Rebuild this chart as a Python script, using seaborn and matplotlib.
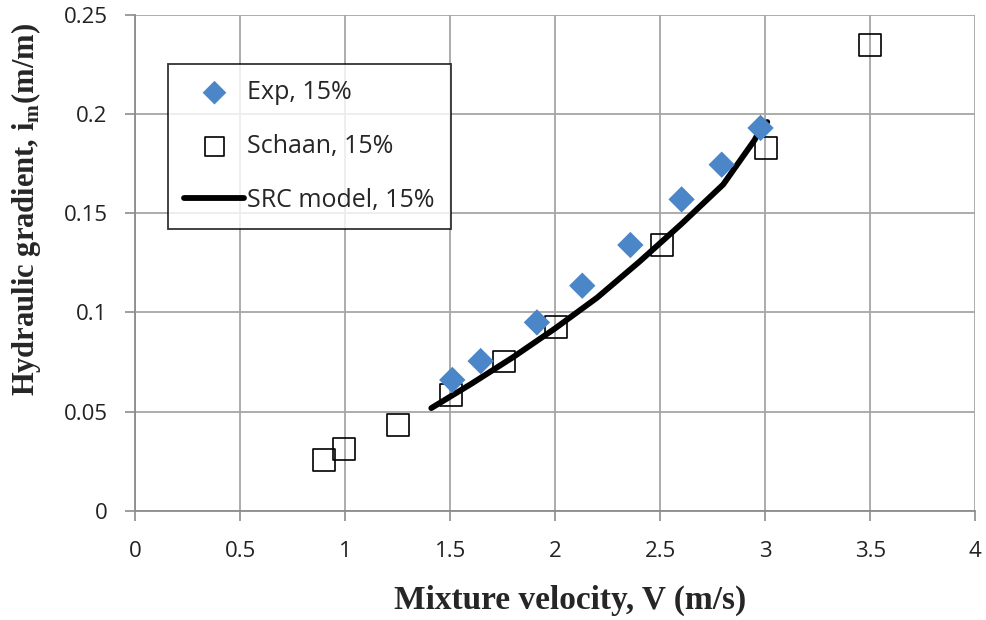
import matplotlib
matplotlib.use("Agg")
import matplotlib.pyplot as plt
import seaborn as sns
import pandas as pd

exp_v = [1.51, 1.645, 1.913, 2.129, 2.358, 2.602, 2.793, 2.978]
exp_i = [0.066, 0.0755, 0.0950, 0.1135, 0.1340, 0.1570, 0.1745, 0.1930]

schaan_v = [0.90, 0.995, 1.252, 1.506, 1.755, 2.005, 2.509, 3.004, 3.50]
schaan_i = [0.0257, 0.0310, 0.0433, 0.0585, 0.0753, 0.0929, 0.1340, 0.1828, 0.2350]

src_v = [1.41, 1.6, 1.8, 2.0, 2.2, 2.4, 2.6, 2.8, 2.95, 2.98, 3.01]
src_i = [0.0518, 0.0640, 0.0775, 0.0920, 0.1075, 0.1255, 0.1445, 0.1645, 0.1870, 0.1930, 0.1960]

x_ticks = [0, 0.5, 1, 1.5, 2, 2.5, 3, 3.5, 4]
x_labels = ["0", "0.5", "1", "1.5", "2", "2.5", "3", "3.5", "4"]
y_ticks = [0, 0.05, 0.1, 0.15, 0.2, 0.25]
y_labels = ["0", "0.05", "0.1", "0.15", "0.2", "0.25"]

sns.set_style("white")
plt.rcParams['font.family'] = ['Open Sans', 'DejaVu Sans']
plt.rcParams['mathtext.fontset'] = 'custom'
plt.rcParams['mathtext.rm'] = 'Liberation Serif'
plt.rcParams['mathtext.bf'] = 'Liberation Serif:bold'

fig = plt.figure(figsize=(9.87, 6.2), dpi=100)
ax = fig.add_axes([0.137, 0.176, 0.851, 0.8])

df_exp = pd.DataFrame({"V": exp_v, "i": exp_i})
df_sch = pd.DataFrame({"V": schaan_v, "i": schaan_i})
df_src = pd.DataFrame({"V": src_v, "i": src_i})

sns.lineplot(data=df_src, x="V", y="i", ax=ax, color="black", linewidth=4.2,
             label="SRC model, 15%", sort=False, zorder=3, solid_capstyle="round")
sns.scatterplot(data=df_sch, x="V", y="i", ax=ax, marker="s", s=250, facecolor="none",
                edgecolor="black", linewidth=1.2, label="Schaan, 15%", zorder=4)
sns.scatterplot(data=df_exp, x="V", y="i", ax=ax, marker="D", s=180, color="#4a86c8",
                edgecolor="none", label="Exp, 15%", zorder=5)

ax.set_xlim(0, 4)
ax.set_ylim(0, 0.25)
ax.set_xticks(x_ticks)
ax.set_xticklabels(x_labels)
ax.set_yticks(y_ticks)
ax.set_yticklabels(y_labels)
ax.grid(True, color="#a6a6a6", linewidth=1.3)
ax.set_axisbelow(True)
for s in ["top", "right"]:
    ax.spines[s].set_visible(False)
for s in ["left", "bottom"]:
    ax.spines[s].set_color("#8c8c8c")
    ax.spines[s].set_linewidth(1.3)
ax.tick_params(axis="both", which="both", length=7, width=1.2, color="#8c8c8c",
               direction="out", labelsize=16, labelcolor="#222222",
               bottom=True, left=True)
ax.tick_params(axis="x", pad=15)
ax.tick_params(axis="y", pad=13)

ax.set_xlabel("Mixture velocity, V (m/s)", fontfamily="Liberation Serif",
              fontweight="bold", fontsize=24)
ax.set_ylabel(r"Hydraulic gradient, i$_{\mathbf{m}}$(m/m)", fontfamily="Liberation Serif",
              fontweight="bold", fontsize=22)
ax.xaxis.set_label_coords(0.518, -0.148)
ax.yaxis.set_label_coords(-0.11, 0.607)

handles, labels = ax.get_legend_handles_labels()
order = [labels.index("Exp, 15%"), labels.index("Schaan, 15%"), labels.index("SRC model, 15%")]
leg = ax.legend([handles[k] for k in order], [labels[k] for k in order],
                loc="upper left", bbox_to_anchor=(0.0393, 0.901), frameon=True,
                fancybox=False, edgecolor="black", fontsize=18, labelspacing=1.15,
                handlelength=2.4, handletextpad=0.1, borderpad=0.65,
                borderaxespad=0, markerscale=0.9)
leg.get_frame().set_linewidth(1.3)
leg.set_zorder(10)

fig.savefig("out.png", dpi=100)
